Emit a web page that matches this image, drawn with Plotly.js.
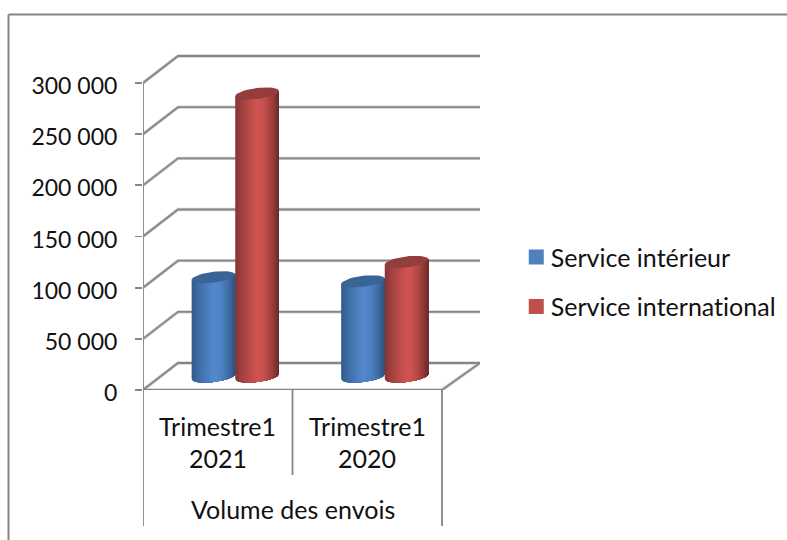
<!DOCTYPE html>
<html>
<head>
<meta charset="utf-8">
<script src="https://cdn.plot.ly/plotly-3.0.1.min.js"></script>
<style>html,body{margin:0;padding:0;background:#fff}#chart{width:787px;height:540px}
svg text{font-variant-ligatures:none !important;font-feature-settings:"liga" 0,"clig" 0,"dlig" 0 !important;letter-spacing:0.01px}
.legend .legendtext{transform:translateX(-5.5px)}</style>
</head>
<body>
<div id="chart"></div>
<script>
// ---- data ----
const categories = ["Trimestre1 2021", "Trimestre1 2020"];
const groupLabel = "Volume des envois";
const seriesNames = ["Service intérieur", "Service international"];
const serviceInterieur = [97000, 93000];
const serviceInternational = [276500, 112000];
const tickValues = [0, 50000, 100000, 150000, 200000, 250000, 300000];
const tickLabels = ["0", "50 000", "100 000", "150 000", "200 000", "250 000", "300 000"];

// ---- page geometry (pixels) ----
const W = 787, H = 540;
const M = {l: 143, r: 307, t: 40, b: 150};
const plotW = W - M.l - M.r, plotH = H - M.t - M.b;
const pxPerCat = 149.5, pxPerVal = 307 / 300000;
const xMax = plotW / pxPerCat, yMax = plotH / pxPerVal;
const dx = px => px / pxPerCat, dy = px => px / pxPerVal;
const depthX = dx(35), depthY = dy(27);
const GRID = "#868686";
const pX = px => (px - M.l) / plotW;
const pY = py => (H - M.b - py) / plotH;

const traces = [];
function line(xs, ys, color, width) {
  traces.push({x: xs, y: ys, type: "scatter", mode: "lines", hoverinfo: "skip", showlegend: false,
    line: {color: color, width: width, simplify: false}, cliponaxis: false});
}
tickValues.forEach(t => line([0, depthX, xMax], [t, t + depthY, t + depthY], "#d4d4d4", 3.4));
line([0, 2, 2 + depthX + dx(3)], [0, 0, depthY], "#d4d4d4", 3.4);
tickValues.forEach(t => line([0, depthX, xMax], [t, t + depthY, t + depthY], GRID, 1.8));
line([0, 2, 2 + depthX + dx(3)], [0, 0, depthY], GRID, 1.8);
line([0, 0], [0, 300000], GRID, 1.8);

// Cylinders: each strip runs to the right edge, so later strips paint over it with no seams
const radius = dx(21.8), semiB = dy(5.5), tilt = dy(2.6), STRIPS = 44, ARC = 30;
function mix(a, b, k) { return a.map((v, i) => Math.round(v + (b[i] - v) * k)); }
function shade(t, pal) {
  const c = t < 0 ? mix(pal.left, pal.mid, Math.pow(1 + t, 0.75))
                  : mix(pal.mid, pal.right, Math.pow(t, 1.9));
  return "rgb(" + c.join(",") + ")";
}
function cylinder(cx, value, pal) {
  const base = depthY / 2;
  const top = base + value;
  for (let i = 0; i < STRIPS; i++) {
    const t0 = -1 + 2 * i / STRIPS;
    const xs = [cx + radius * t0, cx + radius], ys = [top + tilt * t0, top + tilt];
    for (let k = 0; k <= ARC; k++) {
      const t = 1 + (t0 - 1) * k / ARC;
      xs.push(cx + radius * t);
      ys.push(base + tilt * t - semiB * Math.sqrt(Math.max(0, 1 - t * t)));
    }
    traces.push({x: xs, y: ys, type: "scatter", mode: "lines", fill: "toself", hoverinfo: "skip",
      showlegend: false, cliponaxis: false, line: {width: 0},
      fillcolor: shade(t0 + 1 / STRIPS, pal)});
  }
  const ex = [], ey = [];
  for (let a = 0; a <= 48; a++) {
    const th = a / 48 * 2 * Math.PI;
    ex.push(cx + radius * Math.cos(th));
    ey.push(top + tilt * Math.cos(th) + semiB * Math.sin(th));
  }
  traces.push({x: ex, y: ey, type: "scatter", mode: "lines", fill: "toself", hoverinfo: "skip",
    showlegend: false, cliponaxis: false, line: {width: 0}, fillcolor: pal.cap});
}
const BLUE = {left: [48, 88, 136], mid: [83, 136, 203], right: [44, 80, 124], cap: "#386496"};
const RED = {left: [128, 52, 50], mid: [207, 84, 82], right: [104, 40, 39], cap: "#933d3c"};
categories.forEach((c, i) => {
  const mid = i + 0.5 + depthX / 2;
  cylinder(mid - radius, serviceInterieur[i], BLUE);
  cylinder(mid + radius, serviceInternational[i], RED);
});

// Legend entries
[["#4f81bd", 0], ["#c0504d", 1]].forEach(([color, i]) => {
  traces.push({x: [null], y: [null], type: "scatter", mode: "markers", name: seriesNames[i],
    legendgroup: "g" + i, hoverinfo: "skip", showlegend: true,
    marker: {symbol: "square", size: 15, color: color}});
});

// Category labels and frame
const FONT = "Lato, Carlito, Calibri, sans-serif";
const annotations = [];
function label(text, xVal, py, size) {
  annotations.push({text: text, xref: "x", yref: "paper", x: xVal, y: pY(py), showarrow: false,
    xanchor: "center", yanchor: "middle", font: {family: FONT, size: size, color: "#111"}});
}
categories.forEach((c, i) => {
  const parts = c.split(" ");
  label(parts[0], i + 0.5, 425.5, 25);
  label(parts[1], i + 0.5, 457.5, 25);
});
label(groupLabel, 1, 509, 25);

const vShape = (xv, yEndPx) => ({type: "line", xref: "x", yref: "paper", x0: xv, x1: xv,
  y0: 0, y1: pY(yEndPx), line: {color: GRID, width: 1.8}, layer: "above"});
const shapes = [vShape(0, 526), vShape(1, 475), vShape(2, 526),
  {type: "line", xref: "paper", yref: "paper", x0: pX(8.5), x1: pX(8.5), y0: pY(14.5), y1: pY(H), line: {color: GRID, width: 2}},
  {type: "line", xref: "paper", yref: "paper", x0: pX(8.5), x1: pX(W), y0: pY(14.5), y1: pY(14.5), line: {color: GRID, width: 2}}
];

const layout = {
  width: W, height: H, margin: M, paper_bgcolor: "#fff", plot_bgcolor: "rgba(0,0,0,0)",
  showlegend: true, annotations: annotations, shapes: shapes,
  font: {family: FONT, size: 23, color: "#111"},
  xaxis: {range: [0, xMax], showgrid: false, zeroline: false, showticklabels: false, ticks: "", showline: false, fixedrange: true},
  yaxis: {range: [0, yMax], showgrid: false, zeroline: false, showline: false, fixedrange: true,
    tickmode: "array", tickvals: tickValues, ticktext: tickLabels, ticks: "outside", ticklen: 7,
    tickwidth: 1.8, tickcolor: GRID, ticklabelstandoff: 13, ticklabelshift: 3, tickfont: {family: FONT, size: 23, color: "#111"}},
  legend: {xref: "container", yref: "container", x: 0.656, y: 0.566, xanchor: "left", yanchor: "top",
    bgcolor: "rgba(0,0,0,0)", tracegroupgap: 14, itemwidth: 30, font: {family: FONT, size: 25, color: "#111"}}
};
Plotly.newPlot("chart", traces, layout, {staticPlot: true, displayModeBar: false});
</script>
</body>
</html>
